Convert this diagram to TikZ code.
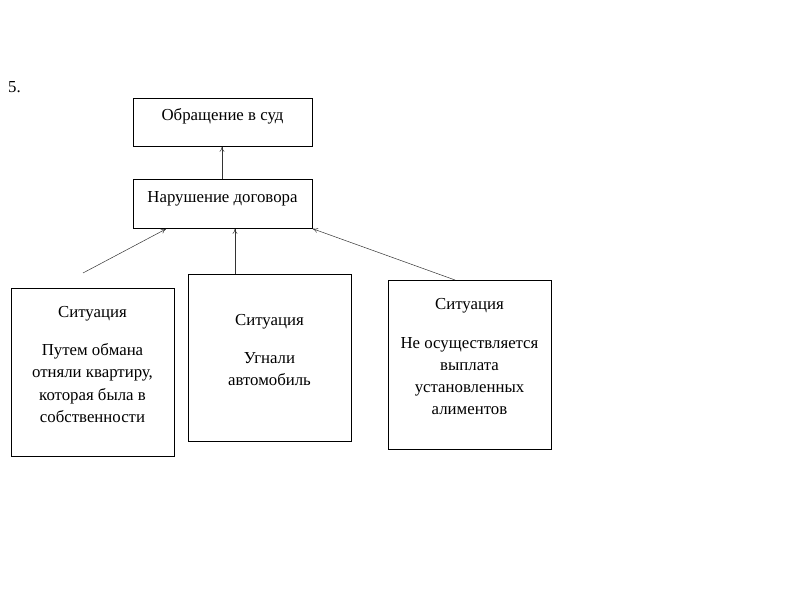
\documentclass[tikz,border=0pt]{standalone}
\usepackage{fontspec}
\setmainfont{Liberation Serif}
\usetikzlibrary{arrows.meta}

\begin{document}
\begin{tikzpicture}[x=1pt,y=1pt]
\useasboundingbox (0,0) rectangle (807,-593);

\tikzset{BoxStyle/.style = {draw, line width=0.8pt, inner sep=0pt, anchor=north west} }
\tikzset{TextStyle/.style = {font=\fontsize{16.8}{22.3}\selectfont, align=center, inner sep=0pt, anchor=base} }
\tikzset{ArrowStyle/.style = {-{To[length=5pt,width=5pt]}, line width=0.5pt, black!80} }

\node[TextStyle, anchor=base west] (Num) at (8,-93) {5.};

\node[BoxStyle, minimum width=179, minimum height=48] (Sud) at (133,-98) {};
\node[TextStyle] (SudT) at (222.5,-120.5) {Обращение в суд};

\node[BoxStyle, minimum width=179, minimum height=49] (Dog) at (133,-179) {};
\node[TextStyle] (DogT) at (222.5,-202.5) {Нарушение договора};

% situations (last line baseline)
\node[BoxStyle, minimum width=163, minimum height=168] (S1) at (11,-288) {};
\node[TextStyle] (S1H) at (92.5,-318) {Ситуация};
\node[TextStyle] (S1T) at (92.5,-422.5) {Путем обмана\\отняли квартиру,\\которая была в\\собственности};

\node[BoxStyle, minimum width=163, minimum height=167] (S2) at (188,-274) {};
\node[TextStyle] (S2H) at (269.5,-326) {Ситуация};
\node[TextStyle] (S2T) at (269.5,-385.5) {Угнали\\автомобиль};

\node[BoxStyle, minimum width=163, minimum height=169] (S3) at (388,-280) {};
\node[TextStyle] (S3H) at (469.5,-310) {Ситуация};
\node[TextStyle] (S3T) at (469.5,-415) {Не осуществляется\\выплата\\установленных\\алиментов};

\coordinate (A1) at (83,-273);
\coordinate (A1e) at (166,-229);

\draw[ArrowStyle] (Dog.north -| 222,0) -- (Sud.south -| 222,0);
\draw[ArrowStyle] (A1) -- (A1e);
\draw[ArrowStyle] (S2.north -| 235,0) -- (Dog.south -| 235,0);
\draw[ArrowStyle] (S3.north -| 455,0) -- (Dog.south east);

\end{tikzpicture}
\end{document}
